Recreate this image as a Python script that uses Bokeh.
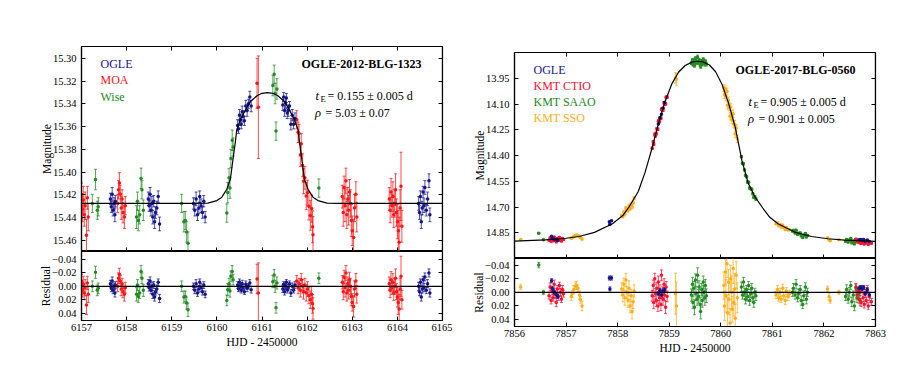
import numpy as np
from bokeh.plotting import figure
from bokeh.models import (Range1d, FixedTicker, LinearAxis, CustomJSTickFormatter, Span,
                          Label, ColumnDataSource, Whisker, TeeHead)
from bokeh.layouts import row, column
from bokeh.embed import file_html
from bokeh.resources import INLINE

# ---------------- data: OGLE-2012-BLG-1323 (left) ----------------
L_X_TICKS = [6157, 6158, 6159, 6160, 6161, 6162, 6163, 6164, 6165]
L_MAG_TICKS = [15.30, 15.32, 15.34, 15.36, 15.38, 15.40, 15.42, 15.44, 15.46]
RES_TICKS = [-0.04, -0.02, 0.0, 0.02, 0.04]

L_MODEL_T = [6157.00, 6159.52, 6159.80, 6160.00, 6160.11, 6160.22, 6160.30, 6160.33, 6160.37,
             6160.41, 6160.44, 6160.52, 6160.63, 6160.74, 6160.89, 6161.00, 6161.12, 6161.24,
             6161.35, 6161.50, 6161.61, 6161.72, 6161.80, 6161.83, 6161.87, 6161.91, 6161.94,
             6162.02, 6162.13, 6162.24, 6162.44, 6162.72, 6165.00]
L_MODEL_MAG = [15.4275, 15.4275, 15.4272, 15.425, 15.422, 15.415, 15.406, 15.397, 15.385,
               15.3735, 15.363, 15.354, 15.3456, 15.338, 15.333, 15.3308, 15.3302, 15.3308,
               15.333, 15.338, 15.3456, 15.354, 15.363, 15.3735, 15.385, 15.397, 15.406,
               15.415, 15.422, 15.425, 15.4272, 15.4275, 15.4275]

L_OGLE_T = [6157.64, 6157.66, 6157.68, 6157.70, 6157.72, 6157.74, 6157.75,
            6158.48, 6158.50, 6158.52, 6158.54, 6158.56, 6158.58, 6158.60, 6158.62, 6158.64, 6158.67, 6158.70, 6158.73,
            6159.48, 6159.51, 6159.54, 6159.57, 6159.60, 6159.62, 6159.65, 6159.68, 6159.71, 6159.74,
            6160.46, 6160.48, 6160.50, 6160.52, 6160.54, 6160.56, 6160.58, 6160.61, 6160.64, 6160.67, 6160.70, 6160.73, 6160.76,
            6161.46, 6161.48, 6161.50, 6161.52, 6161.54, 6161.56, 6161.58, 6161.61, 6161.64, 6161.67, 6161.70, 6161.73,
            6164.47, 6164.49, 6164.51, 6164.53, 6164.55, 6164.57, 6164.59, 6164.61, 6164.64, 6164.67, 6164.70, 6164.72]
L_OGLE_MAG = [15.4235, 15.4305, 15.4195, 15.4335, 15.4275, 15.4375, 15.4255,
              15.4235, 15.4295, 15.4195, 15.4335, 15.4275, 15.4395, 15.4255, 15.4435, 15.4355, 15.4315, 15.4215, 15.4455,
              15.4275, 15.4335, 15.4235, 15.4375, 15.4315, 15.4215, 15.4295, 15.4355, 15.4255, 15.4395,
              15.359, 15.362, 15.350, 15.354, 15.358, 15.347, 15.351, 15.355, 15.342, 15.346, 15.340, 15.334, 15.342,
              15.341, 15.334, 15.346, 15.339, 15.335, 15.348, 15.346, 15.342, 15.358, 15.350, 15.358, 15.353,
              15.4275, 15.4355, 15.4215, 15.4435, 15.4315, 15.4175, 15.4295, 15.4135, 15.4335, 15.4235, 15.4075, 15.4375]
L_OGLE_RES = [-0.004, 0.003, -0.008, 0.006, 0.000, 0.010, -0.002,
              -0.004, 0.002, -0.008, 0.006, 0.000, 0.012, -0.002, 0.016, 0.008, 0.004, -0.006, 0.018,
              0.000, 0.006, -0.004, 0.010, 0.004, -0.006, 0.002, 0.008, -0.002, 0.012,
              -0.002, 0.004, -0.006, 0.000, 0.006, -0.004, 0.002, 0.008, -0.003, 0.003, 0.000, -0.005, 0.005,
              0.004, -0.003, 0.008, 0.000, -0.006, 0.005, 0.002, -0.004, 0.010, 0.000, 0.006, -0.002,
              0.000, 0.008, -0.006, 0.016, 0.004, -0.010, 0.002, -0.014, 0.006, -0.004, -0.020, 0.010]
L_OGLE_ERR = [0.005, 0.005, 0.006, 0.005, 0.005, 0.006, 0.005,
              0.006, 0.005, 0.006, 0.005, 0.006, 0.006, 0.005, 0.006, 0.005, 0.006, 0.005, 0.006,
              0.005, 0.005, 0.006, 0.005, 0.005, 0.005, 0.006, 0.005, 0.005, 0.005,
              0.005, 0.004, 0.005, 0.005, 0.004, 0.005, 0.005, 0.004, 0.005, 0.005, 0.004, 0.005, 0.005,
              0.005, 0.004, 0.005, 0.005, 0.004, 0.005, 0.005, 0.004, 0.005, 0.005, 0.004, 0.005,
              0.006, 0.006, 0.005, 0.006, 0.006, 0.005, 0.006, 0.006, 0.005, 0.006, 0.006, 0.006]

L_MOA_T = [6157.00, 6157.02, 6157.04, 6157.06, 6157.08, 6157.11, 6157.13, 6157.15,
           6157.80, 6157.82, 6157.84, 6157.86, 6157.88, 6157.90, 6157.92, 6157.95, 6157.97,
           6160.89, 6160.92,
           6161.77, 6161.80, 6161.82, 6161.85, 6161.87, 6161.90, 6161.92, 6161.95, 6161.98, 6162.01, 6162.04, 6162.07, 6162.10, 6162.12, 6162.13,
           6162.78, 6162.80, 6162.82, 6162.84, 6162.86, 6162.88, 6162.90, 6162.92, 6162.94, 6162.96, 6162.98, 6163.00, 6163.03, 6163.05, 6163.08, 6163.10,
           6163.82, 6163.84, 6163.86, 6163.88, 6163.90, 6163.92, 6163.94, 6163.96, 6163.98, 6164.00, 6164.02, 6164.04, 6164.06, 6164.08, 6164.10]
L_MOA_MAG = [15.4195, 15.4325, 15.4245, 15.4375, 15.4295, 15.4555, 15.4225, 15.4395,
             15.4275, 15.4155, 15.4095, 15.4195, 15.4315, 15.4235, 15.4355, 15.4395, 15.4295,
             15.322, 15.343,
             15.354, 15.365, 15.366, 15.385, 15.375, 15.394, 15.408, 15.405, 15.421, 15.418, 15.430, 15.438, 15.432, 15.448, 15.455,
             15.4215, 15.4355, 15.4135, 15.4295, 15.4075, 15.4375, 15.4235, 15.4335, 15.4175, 15.4275, 15.4425, 15.4515, 15.4575, 15.4315, 15.4195, 15.4395,
             15.4235, 15.4335, 15.4175, 15.4295, 15.4215, 15.4375, 15.4275, 15.4155, 15.4355, 15.4435, 15.4515, 15.4615, 15.4315, 15.4125, 15.4475]
L_MOA_RES = [-0.008, 0.005, -0.003, 0.010, 0.002, 0.028, -0.005, 0.012,
             0.000, -0.012, -0.018, -0.008, 0.004, -0.004, 0.008, 0.012, 0.002,
             -0.011, 0.010,
             -0.008, 0.002, -0.004, 0.006, -0.010, 0.000, 0.008, -0.002, 0.010, 0.004, 0.014, 0.020, 0.012, 0.026, 0.033,
             -0.006, 0.008, -0.014, 0.002, -0.020, 0.010, -0.004, 0.006, -0.010, 0.000, 0.015, 0.024, 0.030, 0.004, -0.008, 0.012,
             -0.004, 0.006, -0.010, 0.002, -0.006, 0.010, 0.000, -0.012, 0.008, 0.016, 0.024, 0.034, 0.004, -0.015, 0.020]
L_MOA_ERR = [0.010, 0.011, 0.012, 0.010, 0.012, 0.014, 0.010, 0.012,
             0.008, 0.008, 0.009, 0.008, 0.010, 0.008, 0.009, 0.010, 0.008,
             0.022, 0.045,
             0.008, 0.009, 0.008, 0.010, 0.009, 0.010, 0.011, 0.010, 0.012, 0.011, 0.012, 0.013, 0.012, 0.014, 0.016,
             0.010, 0.012, 0.010, 0.014, 0.011, 0.012, 0.010, 0.013, 0.011, 0.012, 0.014, 0.013, 0.016, 0.012, 0.011, 0.013,
             0.010, 0.011, 0.012, 0.010, 0.013, 0.011, 0.012, 0.014, 0.012, 0.015, 0.018, 0.022, 0.016, 0.030, 0.014]

L_WISE_T = [6157.24, 6157.31, 6157.35, 6157.37,
            6158.22, 6158.24, 6158.26, 6158.29, 6158.32, 6158.34, 6158.37,
            6159.22, 6159.27, 6159.30, 6159.33, 6159.36,
            6160.22, 6160.24, 6160.27, 6160.29, 6160.31, 6160.34, 6160.36,
            6161.24, 6161.27, 6161.29, 6161.31, 6161.33,
            6162.26]
L_WISE_MAG = [15.4275, 15.4065, 15.4335, 15.4305,
              15.4395, 15.4255, 15.4425, 15.4375, 15.4055, 15.4155, 15.4335,
              15.4275, 15.4435, 15.4425, 15.4525, 15.4625,
              15.436, 15.418, 15.405, 15.414, 15.388, 15.372, 15.378,
              15.324, 15.314, 15.331, 15.364, 15.327,
              15.414]
L_WISE_RES = [0.000, -0.021, 0.006, 0.003,
              0.012, -0.002, 0.015, 0.010, -0.022, -0.012, 0.006,
              0.000, 0.016, 0.015, 0.025, 0.035,
              0.021, 0.005, -0.004, 0.007, -0.015, -0.022, -0.010,
              -0.007, -0.017, 0.000, 0.032, -0.005,
              -0.012]
L_WISE_ERR = [0.008, 0.009, 0.008, 0.008,
              0.010, 0.008, 0.009, 0.008, 0.009, 0.008, 0.009,
              0.008, 0.009, 0.008, 0.009, 0.010,
              0.008, 0.009, 0.008, 0.009, 0.008, 0.009, 0.008,
              0.009, 0.008, 0.009, 0.008, 0.009,
              0.008]

# ---------------- data: OGLE-2017-BLG-0560 (right) ----------------
R_X_TICKS = [7856, 7857, 7858, 7859, 7860, 7861, 7862, 7863]
R_MAG_TICKS = [13.95, 14.10, 14.25, 14.40, 14.55, 14.70, 14.85]
R_MAG_EDGE_LABEL = "15.00"

R_MODEL_T = [7856.00, 7856.60, 7857.00, 7857.25, 7857.55, 7857.90, 7858.10, 7858.22, 7858.40,
             7858.53, 7858.66, 7858.79, 7858.92, 7859.05, 7859.18, 7859.31, 7859.44, 7859.55,
             7859.66, 7859.78, 7859.90, 7860.02, 7860.15, 7860.28, 7860.41, 7860.53, 7860.66,
             7860.80, 7860.95, 7861.11, 7861.43, 7861.76, 7862.08, 7862.40, 7863.00]
R_MODEL_MAG = [14.899, 14.891, 14.882, 14.872, 14.848, 14.798, 14.750, 14.700, 14.610,
               14.500, 14.365, 14.215, 14.085, 13.983, 13.915, 13.876, 13.856, 13.851,
               13.855, 13.873, 13.912, 13.983, 14.095, 14.235, 14.430, 14.560, 14.640,
               14.700, 14.760, 14.798, 14.846, 14.872, 14.885, 14.893, 14.900]

R_OGLE_T = [7856.72, 7856.73, 7856.76, 7856.78, 7856.82, 7856.84,
            7857.84, 7857.85, 7857.88,
            7858.79, 7858.82, 7858.85, 7858.88, 7858.91,
            7862.68, 7862.71, 7862.74, 7862.77, 7862.80, 7862.84, 7862.88]
R_OGLE_MAG = [14.871, 14.882, 14.886, 14.889, 14.892, 14.894,
              14.786, 14.801, 14.780,
              14.217, 14.182, 14.159, 14.123, 14.091,
              14.891, 14.890, 14.892, 14.890, 14.899, 14.893, 14.901]
R_OGLE_RES = [-0.017, -0.006, -0.002, 0.001, 0.004, 0.006,
              -0.021, -0.005, -0.021,
              0.002, -0.003, 0.004, -0.002, -0.004,
              -0.006, -0.007, -0.005, -0.007, 0.002, -0.004, 0.004]
R_OGLE_ERR = [0.003, 0.003, 0.003, 0.003, 0.003, 0.003,
              0.003, 0.003, 0.003,
              0.003, 0.003, 0.003, 0.003, 0.003,
              0.003, 0.003, 0.003, 0.003, 0.003, 0.003, 0.003]

R_CTIO_T = [7856.67, 7856.69, 7856.71, 7856.73, 7856.75, 7856.77, 7856.79, 7856.81, 7856.83, 7856.85,
            7856.87, 7856.89, 7856.91, 7856.93, 7856.95,
            7858.67, 7858.69, 7858.70, 7858.72, 7858.73, 7858.75, 7858.76, 7858.78, 7858.79, 7858.81,
            7858.82, 7858.84, 7858.85, 7858.87, 7858.88, 7858.90, 7858.91, 7858.93, 7858.94, 7858.96,
            7862.62, 7862.64, 7862.66, 7862.68, 7862.70, 7862.72, 7862.74, 7862.76, 7862.78, 7862.80,
            7862.82, 7862.84, 7862.86, 7862.88, 7862.92]
R_CTIO_MAG = [14.893, 14.880, 14.900, 14.886, 14.896, 14.876, 14.891, 14.903, 14.883, 14.894,
              14.878, 14.888, 14.898, 14.884, 14.890,
              14.358, 14.320, 14.334, 14.276, 14.286, 14.273, 14.244, 14.247, 14.200, 14.203,
              14.182, 14.183, 14.130, 14.135, 14.135, 14.093, 14.099, 14.099, 14.061, 14.060,
              14.889, 14.901, 14.895, 14.907, 14.897, 14.912, 14.892, 14.905, 14.915, 14.899,
              14.909, 14.893, 14.917, 14.903, 14.911]
R_CTIO_RES = [0.005, -0.008, 0.012, -0.002, 0.008, -0.012, 0.003, 0.015, -0.005, 0.006,
              -0.010, 0.000, 0.010, -0.004, 0.002,
              0.005, -0.010, 0.015, -0.020, 0.002, 0.012, -0.006, 0.020, -0.015, 0.008,
              -0.003, 0.018, -0.025, 0.000, 0.010, -0.012, 0.004, 0.022, -0.008, 0.006,
              -0.008, 0.004, -0.002, 0.010, 0.000, 0.015, -0.005, 0.008, 0.018, 0.002,
              0.012, -0.004, 0.020, 0.006, 0.014]
R_CTIO_ERR = [0.005, 0.006, 0.005, 0.006, 0.005, 0.006, 0.005, 0.006, 0.005, 0.006,
              0.005, 0.006, 0.005, 0.006, 0.005,
              0.008, 0.008, 0.009, 0.008, 0.008, 0.009, 0.008, 0.008, 0.009, 0.008,
              0.008, 0.009, 0.008, 0.008, 0.009, 0.008, 0.008, 0.009, 0.008, 0.008,
              0.005, 0.006, 0.005, 0.006, 0.005, 0.006, 0.005, 0.006, 0.005, 0.006,
              0.005, 0.006, 0.005, 0.006, 0.005]

R_SAAO_T = [7856.47, 7856.56,
            7859.43, 7859.45, 7859.46, 7859.48, 7859.49, 7859.51, 7859.52, 7859.54, 7859.55, 7859.57,
            7859.58, 7859.60, 7859.61, 7859.63, 7859.64, 7859.66, 7859.67, 7859.69, 7859.70, 7859.72,
            7860.40, 7860.42, 7860.44, 7860.46, 7860.48, 7860.50, 7860.52, 7860.54, 7860.56, 7860.58,
            7860.60, 7860.62, 7860.64, 7860.66, 7860.68,
            7861.39, 7861.41, 7861.44, 7861.46, 7861.49, 7861.51, 7861.54, 7861.56, 7861.59, 7861.61,
            7861.64, 7861.66, 7861.68,
            7862.42, 7862.44, 7862.47, 7862.49, 7862.52, 7862.54, 7862.57, 7862.59, 7862.62, 7862.64,
            7862.67, 7862.70]
R_SAAO_MAG = [14.853, 14.891,
              13.862, 13.844, 13.870, 13.848, 13.875, 13.834, 13.854, 13.861, 13.826, 13.857,
              13.844, 13.870, 13.881, 13.850, 13.866, 13.840, 13.857, 13.868, 13.851, 13.869,
              14.407, 14.445, 14.448, 14.484, 14.516, 14.524, 14.555, 14.556, 14.590, 14.593,
              14.597, 14.623, 14.643, 14.640, 14.654,
              14.840, 14.837, 14.851, 14.836, 14.859, 14.854, 14.851, 14.868, 14.877, 14.865,
              14.855, 14.874, 14.866,
              14.900, 14.890, 14.904, 14.894, 14.884, 14.908, 14.898, 14.914, 14.888, 14.902,
              14.896, 14.906]
R_SAAO_RES = [-0.040, 0.000,
              0.004, -0.012, 0.015, -0.006, 0.022, -0.018, 0.002, 0.010, -0.025, 0.006,
              -0.008, 0.018, 0.028, -0.004, 0.012, -0.015, 0.000, 0.008, -0.010, 0.005,
              -0.008, 0.004, -0.015, 0.000, 0.010, -0.004, 0.006, -0.010, 0.012, 0.002,
              -0.006, 0.008, 0.015, 0.000, 0.005,
              0.000, -0.006, 0.004, -0.012, 0.008, 0.002, -0.004, 0.012, 0.018, 0.005,
              -0.008, 0.010, 0.000,
              0.006, -0.004, 0.010, 0.000, -0.010, 0.014, 0.004, 0.020, -0.006, 0.008,
              0.002, 0.012]
R_SAAO_ERR = [0.004, 0.003,
              0.009, 0.010, 0.009, 0.010, 0.011, 0.009, 0.010, 0.009, 0.011, 0.010,
              0.009, 0.010, 0.011, 0.009, 0.010, 0.009, 0.010, 0.011, 0.009, 0.010,
              0.007, 0.006, 0.007, 0.006, 0.007, 0.006, 0.007, 0.006, 0.007, 0.006,
              0.007, 0.006, 0.007, 0.006, 0.007,
              0.006, 0.007, 0.006, 0.007, 0.006, 0.007, 0.006, 0.007, 0.006, 0.007,
              0.006, 0.007, 0.006,
              0.006, 0.007, 0.006, 0.007, 0.006, 0.007, 0.006, 0.007, 0.006, 0.007,
              0.006, 0.007]

R_SSO_T = [7856.12,
           7857.10, 7857.12, 7857.15, 7857.18, 7857.20, 7857.23, 7857.26, 7857.28, 7857.31,
           7858.08, 7858.10, 7858.12, 7858.14, 7858.16, 7858.18, 7858.20, 7858.22, 7858.24, 7858.26,
           7858.28, 7858.30, 7858.32,
           7859.12, 7859.14,
           7860.06, 7860.07, 7860.09, 7860.10, 7860.12, 7860.13, 7860.15, 7860.16, 7860.18, 7860.19,
           7860.21, 7860.22, 7860.24, 7860.25, 7860.27, 7860.28, 7860.30, 7860.32,
           7861.07, 7861.10, 7861.12, 7861.15, 7861.17, 7861.20, 7861.22, 7861.25, 7861.27, 7861.30,
           7861.33,
           7862.07, 7862.10, 7862.12, 7862.29]
R_SSO_MAG = [14.889,
             14.882, 14.878, 14.872, 14.866, 14.864, 14.866, 14.874, 14.878, 14.886,
             14.750, 14.754, 14.730, 14.741, 14.707, 14.717, 14.720, 14.694, 14.710, 14.685,
             14.698, 14.674, 14.648,
             13.948, 13.956,
             14.007, 14.046, 14.013, 14.057, 14.027, 14.108, 14.080, 14.116, 14.172, 14.118,
             14.160, 14.195, 14.157, 14.218, 14.219, 14.273, 14.240, 14.303,
             14.797, 14.793, 14.808, 14.804, 14.817, 14.806, 14.820, 14.831, 14.820, 14.832,
             14.833,
             14.880, 14.891, 14.897, 14.891]
R_SSO_RES = [-0.008,
             0.006, 0.002, -0.004, -0.009, -0.010, -0.006, 0.004, 0.011, 0.020,
             -0.005, 0.004, -0.012, 0.008, -0.018, 0.000, 0.012, -0.006, 0.020, 0.005,
             0.028, 0.014, -0.002,
             0.002, 0.020,
             -0.010, 0.020, -0.030, 0.005, -0.042, 0.030, -0.015, 0.010, 0.045, -0.020,
             0.000, 0.025, -0.035, 0.015, -0.005, 0.038, -0.025, 0.008,
             0.004, -0.004, 0.008, 0.000, 0.010, -0.006, 0.005, 0.012, -0.002, 0.006,
             0.002,
             -0.005, 0.006, 0.012, 0.000]
R_SSO_ERR = [0.004,
             0.006, 0.005, 0.006, 0.005, 0.006, 0.005, 0.006, 0.005, 0.007,
             0.009, 0.010, 0.009, 0.011, 0.010, 0.009, 0.010, 0.011, 0.010, 0.009,
             0.011, 0.010, 0.009,
             0.030, 0.035,
             0.020, 0.022, 0.018, 0.024, 0.020, 0.022, 0.019, 0.023, 0.021, 0.020,
             0.024, 0.019, 0.022, 0.020, 0.023, 0.021, 0.020, 0.022,
             0.005, 0.006, 0.005, 0.006, 0.005, 0.006, 0.005, 0.006, 0.005, 0.006,
             0.005,
             0.004, 0.005, 0.004, 0.003]

# ---------------- styling ----------------
FONT = "Liberation Serif"
C_OGLE = "#14148c"
C_RED = "#ff1414"
C_CTIO = "#ff1030"
C_GREEN = "#228b22"
C_ORANGE = "#ffae1a"
TICK_FS = "10.5px"

FMT2 = CustomJSTickFormatter(code="return tick.toFixed(2);")
FMTRES = CustomJSTickFormatter(code="return (tick < -1e-9 ? '\u2212' : '') + Math.abs(tick).toFixed(2);")
FMT0 = CustomJSTickFormatter(code="return tick.toFixed(0);")
BLANK = CustomJSTickFormatter(code="return '';")


def style_axis(ax):
    ax.major_tick_in = 4
    ax.major_tick_out = 0
    ax.minor_tick_in = 0
    ax.minor_tick_out = 0
    ax.axis_line_color = "black"
    ax.axis_line_width = 1.2
    ax.major_tick_line_color = "black"
    ax.major_label_text_font = FONT
    ax.major_label_text_font_size = TICK_FS
    ax.major_label_text_color = "black"
    ax.major_label_standoff = 5
    ax.axis_label_text_font = FONT
    ax.axis_label_text_font_size = "11.5px"
    ax.axis_label_text_font_style = "normal"
    ax.axis_label_text_color = "black"
    ax.axis_label_standoff = 2


def add_fixed_axis(p, side, loc, ticks):
    ax = LinearAxis(fixed_location=loc, ticker=FixedTicker(ticks=ticks), formatter=BLANK)
    style_axis(ax)
    ax.major_label_standoff = 0
    ax.major_label_text_font_size = "0px"
    p.add_layout(ax, side)


def make_fig(xr, yr, fh, top, bottom, left, right, xaxis):
    p = figure(x_range=xr, y_range=yr, frame_width=361, frame_height=fh,
               min_border_top=top, min_border_bottom=bottom,
               min_border_left=left, min_border_right=right,
               x_axis_location="below" if xaxis else None,
               output_backend="svg", toolbar_location=None)
    p.xgrid.visible = False
    p.ygrid.visible = False
    p.outline_line_color = "black"
    p.outline_line_width = 1.2
    p.background_fill_color = "white"
    p.border_fill_color = "white"
    return p


def draw_series(pm, pr, t, mag, res, err, color):
    t = np.asarray(t, float)
    mag = np.asarray(mag, float)
    res = np.asarray(res, float)
    err = np.asarray(err, float)
    for p, y in ((pm, mag), (pr, res)):
        src = ColumnDataSource(dict(t=t, y=y, lo=y - err, hi=y + err))
        w = Whisker(source=src, base="t", lower="lo", upper="hi", dimension="height",
                    line_color=color, line_alpha=0.75, line_width=1,
                    upper_head=TeeHead(size=3, line_color=color, line_alpha=0.75, line_width=1),
                    lower_head=TeeHead(size=3, line_color=color, line_alpha=0.75, line_width=1))
        p.add_layout(w)
        p.scatter("t", "y", source=src, size=3.5, color=color, line_width=0)


def label(p, x, y, text, color="black", size="12px", style="normal", align="left",
          baseline="middle", x_offset=0):
    p.add_layout(Label(x=x, y=y, text=text, text_font=FONT, text_font_size=size,
                       text_font_style=style, text_color=color, x_offset=x_offset,
                       text_align=align, text_baseline=baseline))


def build_panel(x0, x1, xticks, m0, m1, mticks, r0, r1, fh_main, fh_res,
                top, left, right):
    xr = Range1d(x0, x1)
    pm = make_fig(xr, Range1d(m0, m1), fh_main, top, 0, left, right, False)
    pr = make_fig(xr, Range1d(r0, r1), fh_res, 0, 40, left, right, True)
    # main axes
    ya = pm.yaxis[0]
    style_axis(ya)
    ya.ticker = FixedTicker(ticks=mticks)
    ya.formatter = FMT2
    ya.axis_label = "Magnitude"
    ya.axis_label_standoff = -3
    add_fixed_axis(pm, "below", m0, xticks)
    add_fixed_axis(pm, "above", m1, xticks)
    add_fixed_axis(pm, "right", x1, mticks)
    # residual axes
    yr_ = pr.yaxis[0]
    style_axis(yr_)
    yr_.ticker = FixedTicker(ticks=RES_TICKS)
    yr_.formatter = FMTRES
    yr_.axis_label = "Residual"
    yr_.axis_label_standoff = -3
    xa = pr.xaxis[0]
    style_axis(xa)
    xa.ticker = FixedTicker(ticks=xticks)
    xa.formatter = FMT0
    xa.major_label_standoff = 3
    xa.axis_label = "HJD - 2450000"
    add_fixed_axis(pr, "right", x1, RES_TICKS)
    pr.add_layout(Span(location=0, dimension="width", line_color="black", line_width=1.2))
    return pm, pr


# ---------------- left panel ----------------
LM0, LM1 = 15.4697, 15.2897
lm, lr = build_panel(6157, 6165, L_X_TICKS, LM0, LM1, L_MAG_TICKS, 0.051, -0.052,
                     205, 69, 46, 81, 10)
draw_series(lm, lr, L_WISE_T, L_WISE_MAG, L_WISE_RES, L_WISE_ERR, C_GREEN)
draw_series(lm, lr, L_MOA_T, L_MOA_MAG, L_MOA_RES, L_MOA_ERR, C_RED)
draw_series(lm, lr, L_OGLE_T, L_OGLE_MAG, L_OGLE_RES, L_OGLE_ERR, C_OGLE)
lm.line(L_MODEL_T, L_MODEL_MAG, line_color="black", line_width=1.2)


def lx(X):
    return 6157 + (X - 81) * 8 / 361


def ly(Y):
    return LM1 + (Y - 46) * (LM0 - LM1) / 205


label(lm, lx(100), ly(63), "OGLE", C_OGLE)
label(lm, lx(100), ly(79.5), "MOA", C_RED)
label(lm, lx(100), ly(96), "Wise", C_GREEN)
label(lm, lx(421), ly(63.5), "OGLE-2012-BLG-1323", "black", "12px", "bold", "right")
label(lm, lx(315), ly(95), "t", "black", "12.5px", "italic")
label(lm, lx(320), ly(98.5), "E", "black", "8.5px")
label(lm, lx(327), ly(95), "= 0.155 \u00b1 0.005 d")
label(lm, lx(314.5), ly(112), "\u03c1", "black", "12.5px", "italic")
label(lm, lx(325), ly(112), "= 5.03 \u00b1 0.07")

# ---------------- right panel ----------------
RM0, RM1 = 15.00, 13.80
rm, rr = build_panel(7856, 7863, R_X_TICKS, RM0, RM1, R_MAG_TICKS, 0.0502, -0.0497,
                     206, 68, 52, 62, 15)
draw_series(rm, rr, R_SSO_T, R_SSO_MAG, R_SSO_RES, R_SSO_ERR, C_ORANGE)
draw_series(rm, rr, R_SAAO_T, R_SAAO_MAG, R_SAAO_RES, R_SAAO_ERR, C_GREEN)
draw_series(rm, rr, R_CTIO_T, R_CTIO_MAG, R_CTIO_RES, R_CTIO_ERR, C_CTIO)
draw_series(rm, rr, R_OGLE_T, R_OGLE_MAG, R_OGLE_RES, R_OGLE_ERR, C_OGLE)
rm.line(R_MODEL_T, R_MODEL_MAG, line_color="black", line_width=1.2)


def rx(X):
    return 7856 + (X - 514) * 7 / 361


def ry(Y):
    return RM1 + (Y - 52) * (RM0 - RM1) / 206


# tick label of the bottom edge (15.00), kept fully inside the main canvas
label(rm, 7856, ry(252.5), R_MAG_EDGE_LABEL, "black", TICK_FS, "normal", "right", "middle", -5)

label(rm, rx(533), ry(69.5), "OGLE", C_OGLE)
label(rm, rx(533), ry(85), "KMT CTIO", C_CTIO)
label(rm, rx(533), ry(101), "KMT SAAO", C_GREEN)
label(rm, rx(533), ry(117.5), "KMT SSO", C_ORANGE)
label(rm, rx(855), ry(69.5), "OGLE-2017-BLG-0560", "black", "12px", "bold", "right")
label(rm, rx(748), ry(101), "t", "black", "12.5px", "italic")
label(rm, rx(753), ry(104.5), "E", "black", "8.5px")
label(rm, rx(760), ry(101), "= 0.905 \u00b1 0.005 d")
label(rm, rx(747.5), ry(118), "\u03c1", "black", "12.5px", "italic")
label(rm, rx(758), ry(118), "= 0.901 \u00b1 0.005")

layout = row(column(lm, lr), column(rm, rr))
open("out.html", "w").write(file_html(layout, INLINE))
